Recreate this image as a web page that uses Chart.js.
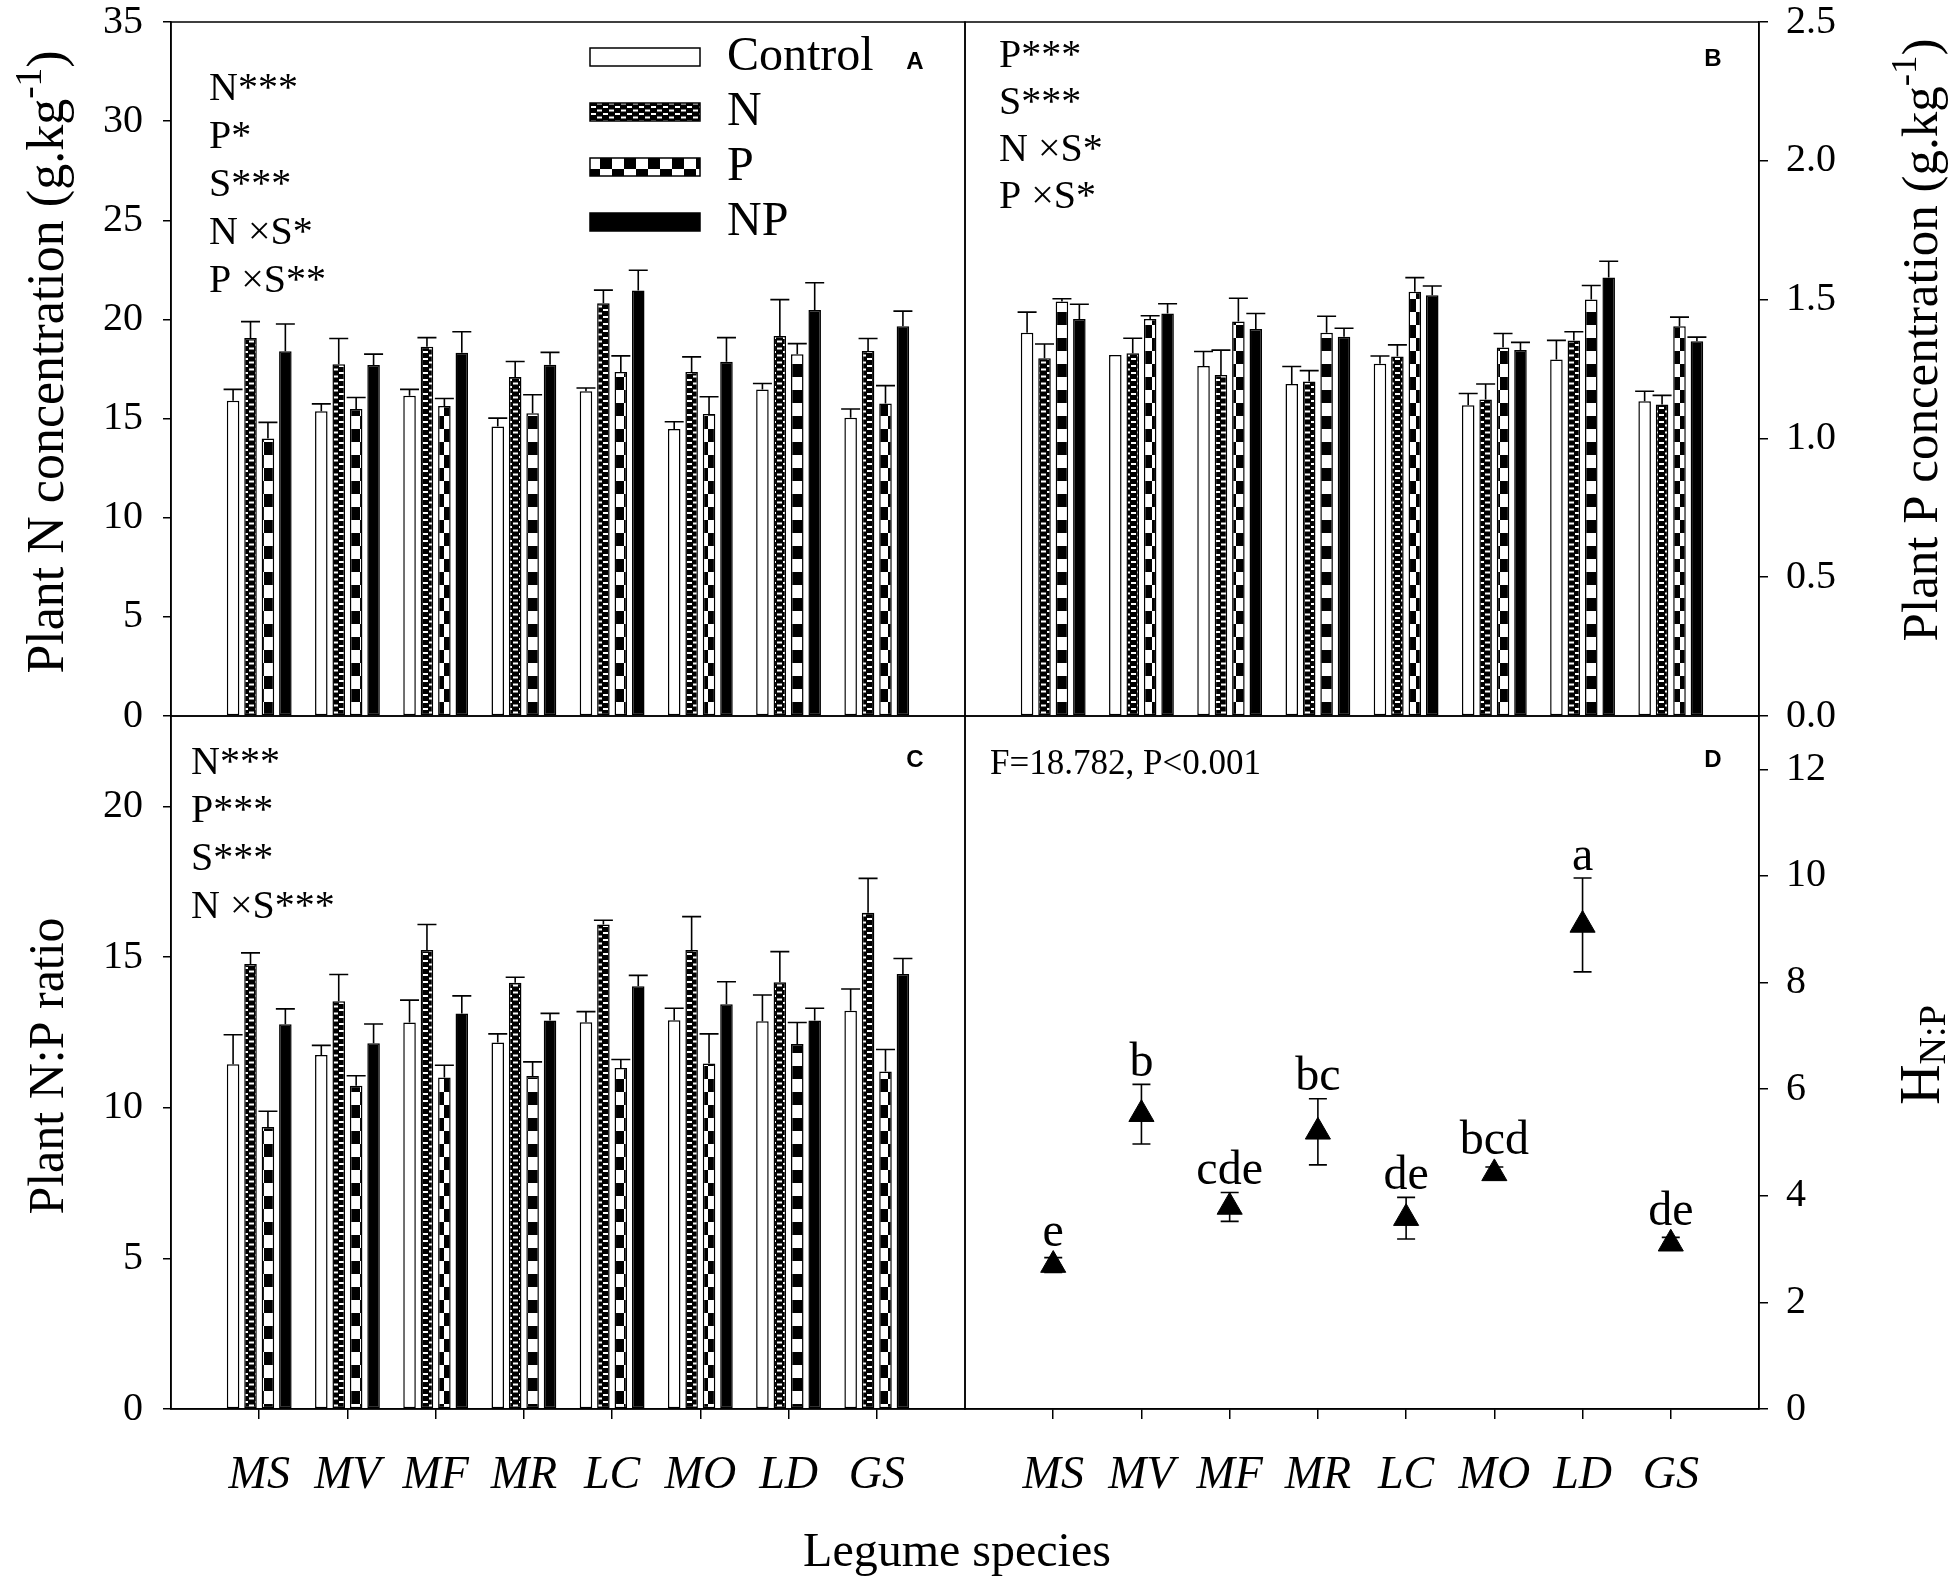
<!DOCTYPE html>
<html><head><meta charset="utf-8">
<script src="https://cdn.jsdelivr.net/npm/chart.js@4.4.1/dist/chart.umd.min.js"></script>
<style>
html,body{margin:0;padding:0;background:#fff;}
#wrap{position:relative;width:1949px;height:1579px;overflow:hidden;background:#fff;}
canvas{position:absolute;left:0;top:0;}
</style>
</head><body>
<div id="wrap">
<canvas id="cA" width="1949" height="1579"></canvas>
<canvas id="cB" width="1949" height="1579"></canvas>
<canvas id="cC" width="1949" height="1579"></canvas>
<canvas id="cD" width="1949" height="1579"></canvas>
</div>
<script>
// ---------------- DATA ----------------
const categories = ['MS','MV','MF','MR','LC','MO','LD','GS'];
const seriesNames = ['Control','N','P','NP'];

// Panel A: plant N concentration (g/kg)
const nControl = [15.90,15.37,16.15,14.60,16.38,14.47,16.47,15.04];
const nN       = [19.06,17.74,18.62,17.10,20.81,17.35,19.17,18.41];
const nP       = [14.00,15.48,15.64,15.27,17.35,15.23,18.25,15.76];
const nNP      = [18.39,17.70,18.32,17.72,21.46,17.86,20.47,19.66];
const nControlErr = [0.57,0.37,0.32,0.42,0.16,0.37,0.30,0.44];
const nNErr       = [0.83,1.30,0.46,0.78,0.67,0.76,1.83,0.63];
const nPErr       = [0.81,0.58,0.37,0.93,0.81,0.87,0.53,0.90];
const nNPErr      = [1.38,0.55,1.06,0.62,1.02,1.22,1.38,0.76];

// Panel B: plant P concentration (g/kg)
const pControl = [1.381,1.300,1.261,1.196,1.269,1.119,1.284,1.134];
const pN       = [1.289,1.307,1.228,1.205,1.295,1.140,1.353,1.122];
const pP       = [1.493,1.430,1.421,1.381,1.528,1.327,1.500,1.404];
const pNP      = [1.430,1.450,1.394,1.366,1.516,1.318,1.580,1.350];
const pControlErr = [0.074,0.000,0.052,0.063,0.028,0.043,0.069,0.036];
const pNErr       = [0.051,0.054,0.090,0.039,0.042,0.056,0.031,0.033];
const pPErr       = [0.010,0.012,0.084,0.059,0.051,0.051,0.051,0.033];
const pNPErr      = [0.053,0.035,0.056,0.031,0.033,0.028,0.058,0.015];

// Panel C: plant N:P ratio
const rControl = [11.44,11.75,12.83,12.16,12.84,12.90,12.87,13.22];
const rN       = [14.77,13.53,15.23,14.15,16.08,15.23,14.16,16.47];
const rP       = [9.36,10.73,11.00,11.05,11.32,11.47,12.11,11.20];
const rNP      = [12.77,12.14,13.13,12.89,14.03,13.43,12.89,14.44];
const rControlErr = [0.98,0.32,0.74,0.29,0.35,0.40,0.87,0.72];
const rNErr       = [0.37,0.89,0.85,0.18,0.14,1.11,1.02,1.14];
const rPErr       = [0.52,0.33,0.41,0.47,0.28,0.98,0.72,0.73];
const rNPErr      = [0.51,0.64,0.58,0.24,0.36,0.75,0.41,0.51];

// Panel D: homeostasis H N:P
const hValues  = [2.70,5.53,3.79,5.20,3.58,4.42,9.08,3.10];
const hErr     = [0.14,0.56,0.27,0.62,0.39,0.12,0.88,0.12];
const hLetters = ['e','b','cde','bc','de','bcd','a','de'];

// Axis ranges / ticks
const yTicksA = {min:0, max:35, step:5};
const yTicksB = {min:0, max:2.5, step:0.5};
const yTicksC = {min:0, max:23, step:5};
const yTicksD = {min:0, max:13, step:2};

// Text annotations
const annA = ['N***','P*','S***','N \u00d7S*','P \u00d7S**'];
const annB = ['P***','S***','N \u00d7S*','P \u00d7S*'];
const annC = ['N***','P***','S***','N \u00d7S***'];
const annD = 'F=18.782, P<0.001';

// ---------------- HELPERS ----------------
const SERIF = '"Liberation Serif", "Times New Roman", serif';
const SANS = '"Liberation Sans", Arial, sans-serif';
const slotLabels = ['', ...categories, ''];
const pad = a => [null, ...a, null];

function makePattern(w, h, draw){
  const c = document.createElement('canvas'); c.width=w; c.height=h;
  const g = c.getContext('2d'); draw(g, w, h);
  return document.getElementById('cA').getContext('2d').createPattern(c, 'repeat');
}
const patN = makePattern(12, 7, (g)=>{
  g.fillStyle='#000'; g.fillRect(0,0,12,7);
  g.fillStyle='#fff';
  g.fillRect(3,1,5,2);
  g.fillRect(9,4.5,3,2); g.fillRect(0,4.5,2,2);
});
const patP = makePattern(24, 26, (g)=>{
  g.fillStyle='#fff'; g.fillRect(0,0,24,26);
  g.fillStyle='#000';
  g.fillRect(0,0,12,13); g.fillRect(12,13,12,13);
});
const fills = ['#ffffff', patN, patP, '#000000'];

function barDatasets(vals, errs){
  return vals.map((v,i)=>({
    label: seriesNames[i], data: pad(v), errors: pad(errs[i]),
    backgroundColor: fills[i], borderColor:'#000', borderWidth:1.5, borderSkipped:false,
    categoryPercentage:0.79, barPercentage:0.72
  }));
}

const framePlugin = {id:'frame', afterDraw(chart){
  const {ctx, chartArea:a} = chart;
  ctx.save(); ctx.strokeStyle='#000'; ctx.lineWidth=1.5;
  ctx.strokeRect(a.left, a.top, a.right-a.left, a.bottom-a.top);
  ctx.restore();
}};

const errorPlugin = {id:'errbars', afterDatasetsDraw(chart){
  const ctx = chart.ctx, yS = chart.scales.y;
  chart.data.datasets.forEach((ds, di)=>{
    if(!ds.errors) return;
    const meta = chart.getDatasetMeta(di);
    const cap = ds.capWidth || 19;
    ctx.save(); ctx.strokeStyle='#000'; ctx.lineWidth=1.6;
    meta.data.forEach((el, i)=>{
      const v = ds.data[i], e = ds.errors[i];
      if(v==null || !e) return;
      const x = el.x;
      const yTop = yS.getPixelForValue(v+e);
      const yBot = ds.errBoth ? yS.getPixelForValue(v-e) : yS.getPixelForValue(v);
      ctx.beginPath();
      ctx.moveTo(x, yBot); ctx.lineTo(x, yTop);
      ctx.moveTo(x-cap/2, yTop); ctx.lineTo(x+cap/2, yTop);
      if(ds.errBoth){ ctx.moveTo(x-cap/2, yBot); ctx.lineTo(x+cap/2, yBot); }
      ctx.stroke();
    });
    ctx.restore();
  });
}};

function textLines(ctx, lines, x, y0, dy, size){
  ctx.font = size+'px '+SERIF; ctx.fillStyle='#000';
  ctx.textAlign='left'; ctx.textBaseline='alphabetic';
  lines.forEach((t,i)=>ctx.fillText(t, x, y0+i*dy));
}
function panelLetter(ctx, t, x, y){
  ctx.font = 'bold 24px '+SANS; ctx.fillStyle='#000';
  ctx.textAlign='center'; ctx.textBaseline='middle';
  ctx.fillText(t, x, y);
}
function vTitle(ctx, x, cy, parts, size){
  ctx.save(); ctx.translate(x, cy); ctx.rotate(-Math.PI/2);
  ctx.fillStyle='#000'; ctx.textAlign='left'; ctx.textBaseline='alphabetic';
  let w = 0;
  parts.forEach(p=>{ ctx.font=(size*p.s)+'px '+SERIF; p.w = ctx.measureText(p.t).width; w += p.w; });
  let cx = -w/2;
  parts.forEach(p=>{ ctx.font=(size*p.s)+'px '+SERIF; ctx.fillText(p.t, cx, -p.dy*size); cx += p.w; });
  ctx.restore();
}

function yAxis(r, position, width, fmt){
  return {
    position, min:r.min, max:r.max,
    ticks:{stepSize:r.step, includeBounds:false, color:'#000', padding: position==='left'?20:18,
      font:{family:SERIF, size:40, lineHeight:1.0}, callback: fmt || (v=>v)},
    grid:{drawOnChartArea:false, drawTicks:true, tickLength: position==='left'?8:9, color:'#000', lineWidth:1.5},
    border:{display:true, color:'#000', width:1.5},
    afterFit: s => { s.width = width; s.paddingTop = 0; s.paddingBottom = 0; }
  };
}
function xAxis(show){
  if(!show) return {display:false, offset:false, grid:{offset:false}};
  return {
    position:'bottom', offset:false,
    ticks:{autoSkip:false, maxRotation:0, minRotation:0, color:'#000', padding:29,
      font:{family:SERIF, size:46, style:'italic'}},
    grid:{offset:false, drawOnChartArea:false, drawTicks:true, tickLength:10, lineWidth:1.5,
      color: c => (c.index===0 || c.index===slotLabels.length-1) ? 'rgba(0,0,0,0)' : '#000'},
    border:{display:true, color:'#000', width:1.5},
    afterFit: s => { s.height = 170; s.paddingLeft = 0; s.paddingRight = 0; }
  };
}
const baseOpts = {responsive:false, animation:false, devicePixelRatio:1,
  plugins:{legend:{display:false}, tooltip:{enabled:false}}, events:[]};

// ---------------- PANEL A ----------------
new Chart(document.getElementById('cA'), {
  type:'bar',
  data:{labels:slotLabels, datasets: barDatasets([nControl,nN,nP,nNP],[nControlErr,nNErr,nPErr,nNPErr])},
  options:{...baseOpts,
    layout:{padding:{left:0, top:22, right:984, bottom:863}},
    scales:{x:xAxis(false), y:yAxis(yTicksA,'left',171)}},
  plugins:[errorPlugin, framePlugin, {id:'decA', afterDraw(chart){
    const ctx = chart.ctx; ctx.save();
    textLines(ctx, annA, 209, 100, 48, 40);
    // legend
    chart.data.datasets.forEach((ds,i)=>{
      const yc = 57 + i*55;
      ctx.fillStyle = ds.backgroundColor; ctx.fillRect(590, yc-9, 110, 18);
      ctx.strokeStyle='#000'; ctx.lineWidth=1.5; ctx.strokeRect(590, yc-9, 110, 18);
      ctx.fillStyle='#000'; ctx.font='48px '+SERIF; ctx.textAlign='left'; ctx.textBaseline='middle';
      ctx.fillText(ds.label, 727, yc);
    });
    panelLetter(ctx, 'A', 915, 62);
    vTitle(ctx, 63, 362, [{t:'Plant N concentration (g.kg',s:1,dy:0},{t:'-1',s:0.72,dy:0.42},{t:')',s:1,dy:0}], 52);
    ctx.restore();
  }}]
});

// ---------------- PANEL B ----------------
new Chart(document.getElementById('cB'), {
  type:'bar',
  data:{labels:slotLabels, datasets: barDatasets([pControl,pN,pP,pNP],[pControlErr,pNErr,pPErr,pNPErr])},
  options:{...baseOpts,
    layout:{padding:{left:965, top:22, right:0, bottom:863}},
    scales:{x:xAxis(false), y:yAxis(yTicksB,'right',190, v=>v.toFixed(1))}},
  plugins:[errorPlugin, framePlugin, {id:'decB', afterDraw(chart){
    const ctx = chart.ctx; ctx.save();
    textLines(ctx, annB, 999, 67, 47, 40);
    panelLetter(ctx, 'B', 1713, 59);
    vTitle(ctx, 1937, 340, [{t:'Plant P concentration (g.kg',s:1,dy:0},{t:'-1',s:0.72,dy:0.42},{t:')',s:1,dy:0}], 51);
    ctx.restore();
  }}]
});

// ---------------- PANEL C ----------------
new Chart(document.getElementById('cC'), {
  type:'bar',
  data:{labels:slotLabels, datasets: barDatasets([rControl,rN,rP,rNP],[rControlErr,rNErr,rPErr,rNPErr])},
  options:{...baseOpts,
    layout:{padding:{left:0, top:716, right:984, bottom:0}},
    scales:{x:xAxis(true), y:yAxis(yTicksC,'left',171)}},
  plugins:[errorPlugin, framePlugin, {id:'decC', afterDraw(chart){
    const ctx = chart.ctx; ctx.save();
    textLines(ctx, annC, 191, 774, 48, 40);
    panelLetter(ctx, 'C', 915, 760);
    vTitle(ctx, 63, 1066, [{t:'Plant N:P ratio',s:1,dy:0}], 50);
    ctx.font='48px '+SERIF; ctx.textAlign='center'; ctx.textBaseline='alphabetic'; ctx.fillStyle='#000';
    ctx.fillText('Legume species', 957, 1566);
    ctx.restore();
  }}]
});

// ---------------- PANEL D ----------------
new Chart(document.getElementById('cD'), {
  type:'line',
  data:{labels:slotLabels, datasets:[{
    label:'HN:P', data:pad(hValues), errors:pad(hErr), errBoth:true, capWidth:18,
    showLine:false, pointStyle:'triangle', pointRadius:14.5, pointBorderWidth:1,
    pointBackgroundColor:'#000', pointBorderColor:'#000', borderColor:'#000'
  }]},
  options:{...baseOpts,
    layout:{padding:{left:965, top:716, right:0, bottom:0}},
    scales:{x:xAxis(true), y:yAxis(yTicksD,'right',190)}},
  plugins:[errorPlugin, framePlugin, {id:'decD', afterDraw(chart){
    const ctx = chart.ctx; ctx.save();
    ctx.font='35px '+SERIF; ctx.fillStyle='#000'; ctx.textAlign='left'; ctx.textBaseline='alphabetic';
    ctx.fillText(annD, 990, 774);
    panelLetter(ctx, 'D', 1713, 760);
    const yS = chart.scales.y, meta = chart.getDatasetMeta(0);
    ctx.font='48px '+SERIF; ctx.textAlign='center';
    meta.data.forEach((el,i)=>{
      const lab = (i>0 && i<=categories.length) ? hLetters[i-1] : null;
      if(!lab) return;
      const v = hValues[i-1], e = hErr[i-1];
      const base = Math.min(yS.getPixelForValue(v+e) - 21, yS.getPixelForValue(v) - 14.5 - 17);
      ctx.fillText(lab, el.x, base);
    });
    vTitle(ctx, 1939, 1055, [{t:'H',s:1,dy:0},{t:'N:P',s:0.68,dy:-0.1}], 56);
    ctx.restore();
  }}]
});
</script>
</body></html>
